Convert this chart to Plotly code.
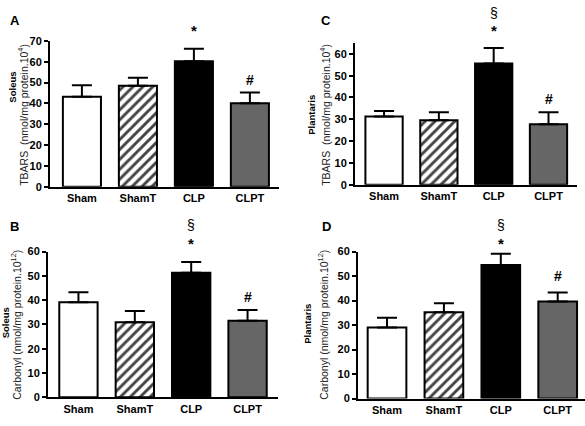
import plotly.graph_objects as go

categories = ["Sham", "ShamT", "CLP", "CLPT"]

# Panel A: Soleus TBARS
a_vals = [43.2, 48.5, 60.3, 40.1]
a_err = [5.5, 3.8, 6.0, 5.2]
# Panel C: Plantaris TBARS
c_vals = [31.3, 29.6, 55.6, 27.7]
c_err = [2.5, 3.7, 7.1, 5.6]
# Panel B: Soleus Carbonyl
b_vals = [39.1, 30.9, 51.3, 31.5]
b_err = [4.2, 4.6, 4.4, 4.5]
# Panel D: Plantaris Carbonyl
d_vals = [29.0, 35.2, 54.5, 39.6]
d_err = [4.0, 3.7, 4.6, 3.7]

W, H = 585, 426
FONT = "Liberation Sans, Arial, sans-serif"

fills = ["white", "white", "black", "#666666"]
patterns = ["", "/", "", ""]

panels = [
    dict(vals=a_vals, err=a_err, xd=(50, 279), yd=(186, 36), yr=[0, 70], xr=[-0.57, 3.52],
         letter="A", lpos=(8, 15), muscle="Soleus", mpos=(13, 84),
         measure="TBARS  (nmol/mg protein.10<sup>4</sup>)", tpos=(23, 112),
         marks=[(2, 75.1, "*"), (3, 51.3, "#")]),
    dict(vals=c_vals, err=c_err, xd=(355, 577), yd=(184, 38), yr=[0, 65], xr=[-0.53, 3.52],
         letter="C", lpos=(319, 15), muscle="Plantaris", mpos=(312, 112),
         measure="TBARS  (nmol/mg protein.10<sup>4</sup>)", tpos=(325, 112),
         marks=[(2, 78.7, "§"), (2, 70.7, "*"), (3, 39.1, "#")]),
    dict(vals=b_vals, err=b_err, xd=(48, 278), yd=(402.7, 252.7), yr=[0, 60], xr=[-0.54, 3.54],
         letter="B", lpos=(8, 227), muscle="Soleus", mpos=(5.5, 326),
         measure="Carbonyl (nmol/mg protein.10<sup>12</sup>)", tpos=(16, 328),
         marks=[(2, 71.1, "§"), (2, 63.5, "*"), (3, 41.5, "#")]),
    dict(vals=d_vals, err=d_err, xd=(358, 585), yd=(404, 252.7), yr=[0, 60], xr=[-0.51, 3.48],
         letter="D", lpos=(320, 227), muscle="Plantaris", mpos=(308, 327),
         measure="Carbonyl (nmol/mg protein.10<sup>12</sup>)", tpos=(323, 328),
         marks=[(2, 71.0, "§"), (2, 63.1, "*"), (3, 50.0, "#")]),
]

fig = go.Figure()
annotations = []
layout = {}

for i, p in enumerate(panels):
    n = "" if i == 0 else str(i + 1)
    xa, ya = "x" + n, "y" + n
    fig.add_trace(go.Bar(
        x=list(range(len(categories))), y=p["vals"], xaxis=xa, yaxis=ya,
        width=0.68,
        marker=dict(color=fills, line=dict(color="black", width=2),
                    pattern=dict(shape=patterns, fgcolor="black", bgcolor="white",
                                 fgopacity=1, size=7, solidity=0.42)),
        error_y=dict(type="data", symmetric=False, array=p["err"],
                     arrayminus=[0] * 4, color="black", thickness=2, width=10),
        showlegend=False,
    ))
    ymax = p["yr"][1]
    for (xi, yv, s) in p["marks"]:
        txt = s if s == "§" else f"<b>{s}</b>"
        annotations.append(dict(text=txt, x=xi, y=yv / ymax, xref=xa, yref=ya + " domain",
                                showarrow=False, xanchor="center", yanchor="middle",
                                font=dict(family=FONT, size=15 if s == "*" else 14, color="black")))
    z, t = p["yd"]
    layout["xaxis" + n] = dict(
        domain=[p["xd"][0] / W, p["xd"][1] / W], anchor=ya, range=p["xr"],
        tickmode="array", tickvals=list(range(4)), ticktext=[f"<b>{c}</b>" for c in categories],
        showline=True, linecolor="black", linewidth=2, ticks="", showgrid=False,
        zeroline=False, tickfont=dict(family=FONT, size=11, color="black"), fixedrange=True)
    layout["yaxis" + n] = dict(
        domain=[(H - z) / H, (H - t) / H], anchor=xa, range=p["yr"],
        dtick=10, showline=True, linecolor="black", linewidth=2, ticks="outside",
        ticklen=4, tickwidth=2, tickcolor="black", showgrid=False, zeroline=False,
        tickfont=dict(family=FONT, size=11, color="black"), tickprefix="<b>", ticksuffix="</b>")
    annotations.append(dict(text=f"<b>{p['letter']}</b>", x=p["lpos"][0] / W, y=(H - p["lpos"][1]) / H,
                            xref="paper", yref="paper", showarrow=False, xanchor="left", yanchor="middle",
                            font=dict(family=FONT, size=13, color="black")))
    annotations.append(dict(text=f"<b>{p['muscle']}</b>", x=p["mpos"][0] / W, y=(H - p["mpos"][1]) / H,
                            xref="paper", yref="paper", showarrow=False, textangle=-90,
                            xanchor="center", yanchor="middle",
                            font=dict(family=FONT, size=9.5, color="black")))
    annotations.append(dict(text=p["measure"], x=p["tpos"][0] / W, y=(H - p["tpos"][1]) / H,
                            xref="paper", yref="paper", showarrow=False, textangle=-90,
                            xanchor="center", yanchor="middle",
                            font=dict(family=FONT, size=10.5, color="#222222")))

fig.update_layout(
    width=W, height=H, margin=dict(l=0, r=0, t=0, b=0),
    paper_bgcolor="white", plot_bgcolor="white",
    annotations=annotations, **layout)

fig.write_html("out.html")
